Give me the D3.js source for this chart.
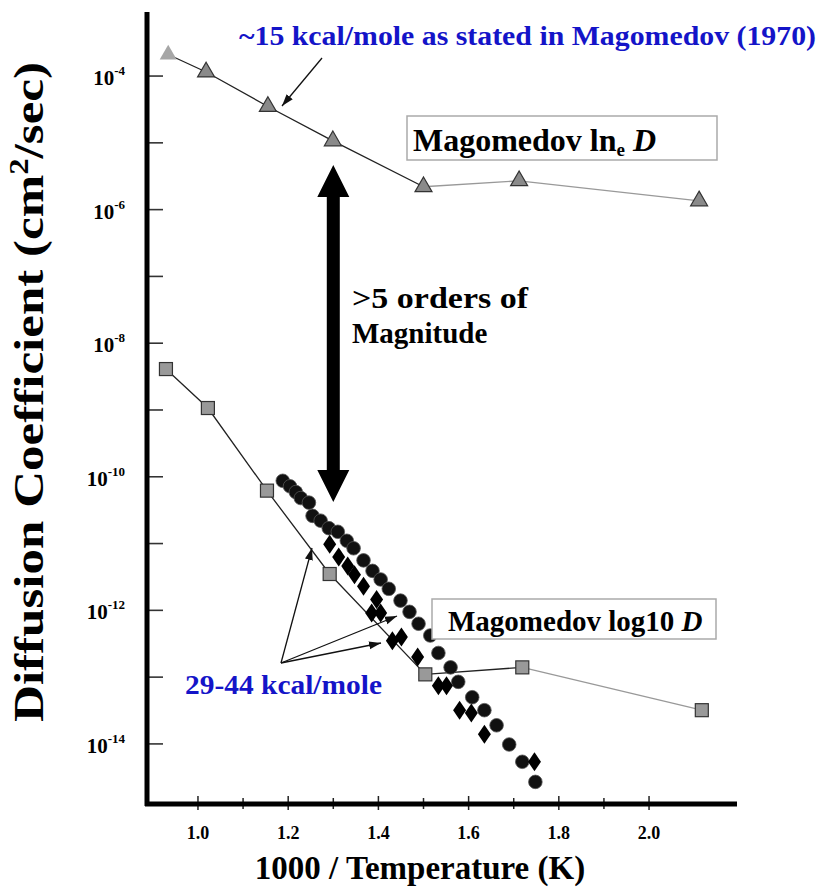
<!DOCTYPE html>
<meta charset="utf-8">
<style>

body {
  margin: 0;
  background: #fff;
}

svg {
  display: block;
}

text {
  font-family: "Liberation Serif", "Times New Roman", serif;
  font-weight: bold;
}

</style>
<svg id="chart" width="820" height="890"></svg>
<script src="https://d3js.org/d3.v7.min.js"></script>
<script>

// x = 1000 / T (1/K), D = diffusion coefficient (cm2/sec)

// Magomedov ln_e D (triangles)
var triX = [0.934, 1.018, 1.155, 1.299, 1.500, 1.712, 2.111];
var triD = [2.1e-4, 1.15e-4, 3.5e-5, 1.07e-5, 2.2e-6, 2.7e-6, 1.35e-6];

// Magomedov log10 D (squares)
var sqX = [0.929, 1.022, 1.153, 1.292, 1.504, 1.719, 2.117];
var sqD = [4.1e-9, 1.07e-9, 6.2e-11, 3.5e-12, 1.1e-13, 1.4e-13, 3.2e-14];

// measured data (circles)
var dotX = [1.188, 1.204, 1.217, 1.228, 1.246, 1.254, 1.272, 1.290, 1.310, 1.330,
            1.345, 1.367, 1.387, 1.405, 1.423, 1.449, 1.469, 1.489, 1.515, 1.533,
            1.560, 1.577, 1.608, 1.635, 1.662, 1.690, 1.719, 1.748];
var dotD = [8.7e-11, 7.2e-11, 5.9e-11, 4.8e-11, 4.1e-11, 2.6e-11, 2.2e-11, 1.7e-11, 1.5e-11, 1.1e-11,
            8.5e-12, 5.6e-12, 3.9e-12, 2.9e-12, 2.1e-12, 1.4e-12, 9.5e-13, 6.3e-13, 4.2e-13, 2.3e-13,
            1.4e-13, 8.5e-14, 5.0e-14, 3.2e-14, 1.9e-14, 9.8e-15, 5.4e-15, 2.7e-15];

// measured data (diamonds)
var diaX = [1.292, 1.312, 1.332, 1.347, 1.367, 1.396, 1.385, 1.405, 1.431, 1.451,
            1.487, 1.533, 1.551, 1.580, 1.606, 1.635, 1.746];
var diaD = [9.8e-12, 6.3e-12, 4.6e-12, 3.4e-12, 2.3e-12, 1.45e-12, 9.1e-13, 9.1e-13, 3.5e-13, 4.0e-13,
            2.0e-13, 7.4e-14, 7.4e-14, 3.2e-14, 2.9e-14, 1.4e-14, 5.4e-15];

var xTicks = [1.0, 1.1, 1.2, 1.3, 1.4, 1.5, 1.6, 1.7, 1.8, 1.9, 2.0];
var xLabels = [1.0, 1.2, 1.4, 1.6, 1.8, 2.0];
var yExps = [-4, -5, -6, -7, -8, -9, -10, -11, -12, -13, -14];
var yLabelExps = [-4, -6, -8, -10, -12, -14];

var xDomain = [0.887, 2.195],
    yDomain = [1.26e-15, 9.1e-4];

var svg = d3.select("#chart");

var x = d3.scaleLinear().domain(xDomain).range([147, 737]);
var y = d3.scaleLog().domain(yDomain).range([804, 12]);

var tri = triX.map(function(v, i) { return [v, triD[i]]; }),
    sq = sqX.map(function(v, i) { return [v, sqD[i]]; }),
    dots = dotX.map(function(v, i) { return [v, dotD[i]]; }),
    dia = diaX.map(function(v, i) { return [v, diaD[i]]; });

var line = d3.line()
    .x(function(d) { return x(d[0]); })
    .y(function(d) { return y(d[1]); });

var defs = svg.append("defs");
defs.append("marker")
    .attr("id", "head")
    .attr("markerUnits", "userSpaceOnUse")
    .attr("viewBox", "0 -5 12 10")
    .attr("refX", 12)
    .attr("refY", 0)
    .attr("markerWidth", 12)
    .attr("markerHeight", 10)
    .attr("orient", "auto")
  .append("path")
    .attr("d", "M0,-4L12,0L0,4Z")
    .attr("fill", "#111");

// y ticks (inside)
svg.append("g").selectAll("line")
  .data(yExps)
  .enter().append("line")
    .attr("x1", x(xDomain[0]))
    .attr("x2", x(xDomain[0]) + 16)
    .attr("y1", function(d) { return y(Math.pow(10, d)); })
    .attr("y2", function(d) { return y(Math.pow(10, d)); })
    .attr("stroke", "#333")
    .attr("stroke-width", 1.6);

var yl = svg.append("g").selectAll("text")
  .data(yLabelExps)
  .enter().append("text")
    .attr("x", 125)
    .attr("y", function(d) { return y(Math.pow(10, d)) + 9; })
    .attr("text-anchor", "end")
    .attr("font-size", 21);
yl.append("tspan").text("10");
yl.append("tspan")
    .attr("dy", -10)
    .attr("font-size", 13)
    .text(function(d) { return d; });

// x ticks (crossing the axis)
svg.append("g").selectAll("line")
  .data(xTicks)
  .enter().append("line")
    .attr("x1", function(d) { return x(d); })
    .attr("x2", function(d) { return x(d); })
    .attr("y1", function(d, i) { return i % 2 ? 798 : 796; })
    .attr("y2", function(d, i) { return i % 2 ? 809 : 810; })
    .attr("stroke", "#222")
    .attr("stroke-width", 1.5);

svg.append("g").selectAll("text")
  .data(xLabels)
  .enter().append("text")
    .attr("x", function(d) { return x(d); })
    .attr("y", 839)
    .attr("text-anchor", "middle")
    .attr("font-size", 18)
    .text(function(d) { return d3.format(".1f")(d); });

// axis lines
svg.append("line")
    .attr("x1", x(xDomain[0])).attr("x2", x(xDomain[0]))
    .attr("y1", y(yDomain[1])).attr("y2", y(yDomain[0]) + 2)
    .attr("stroke", "#000").attr("stroke-width", 5);
svg.append("line")
    .attr("x1", x(xDomain[0]) - 2).attr("x2", x(xDomain[1]))
    .attr("y1", y(yDomain[0])).attr("y2", y(yDomain[0]))
    .attr("stroke", "#000").attr("stroke-width", 5);

// axis titles
svg.append("text")
    .attr("x", 420)
    .attr("y", 879)
    .attr("text-anchor", "middle")
    .attr("font-size", 33)
    .text("1000 / Temperature (K)");

var yt = svg.append("text")
    .attr("transform", "translate(43,392) rotate(-90)")
    .attr("text-anchor", "middle")
    .attr("font-size", 42)
    .attr("textLength", 660)
    .attr("lengthAdjust", "spacingAndGlyphs");
yt.append("tspan").text("Diffusion Coefficient (cm");
yt.append("tspan").attr("dy", -15).attr("font-size", 27).text("2");
yt.append("tspan").attr("dy", 15).text("/sec)");

// series lines
svg.append("path").datum(tri.slice(0, 5))
    .attr("d", line).attr("fill", "none").attr("stroke", "#222").attr("stroke-width", 1.3);
svg.append("path").datum(tri.slice(4))
    .attr("d", line).attr("fill", "none").attr("stroke", "#999").attr("stroke-width", 1.3);
svg.append("path").datum(sq.slice(0, 6))
    .attr("d", line).attr("fill", "none").attr("stroke", "#222").attr("stroke-width", 1.3);
svg.append("path").datum(sq.slice(5))
    .attr("d", line).attr("fill", "none").attr("stroke", "#999").attr("stroke-width", 1.3);

// markers
svg.append("g").selectAll("path")
  .data(tri)
  .enter().append("path")
    .attr("transform", function(d) { return "translate(" + x(d[0]) + "," + y(d[1]) + ")"; })
    .attr("d", d3.symbol(d3.symbolTriangle, 125))
    .attr("fill", function(d, i) { return i ? "#8a8a8a" : "#a6a6a6"; })
    .attr("stroke", function(d, i) { return i ? "#333" : "none"; })
    .attr("stroke-width", 1.2);

svg.append("g").selectAll("rect")
  .data(sq)
  .enter().append("rect")
    .attr("x", function(d) { return x(d[0]) - 6.5; })
    .attr("y", function(d) { return y(d[1]) - 6.5; })
    .attr("width", 13)
    .attr("height", 13)
    .attr("fill", "#999")
    .attr("stroke", "#333")
    .attr("stroke-width", 1.2);

svg.append("g").selectAll("circle")
  .data(dots)
  .enter().append("circle")
    .attr("cx", function(d) { return x(d[0]); })
    .attr("cy", function(d) { return y(d[1]); })
    .attr("r", 6.8)
    .attr("fill", "#111")
    .attr("stroke", "#555")
    .attr("stroke-width", 0.8);

svg.append("g").selectAll("path")
  .data(dia)
  .enter().append("path")
    .attr("transform", function(d) { return "translate(" + x(d[0]) + "," + y(d[1]) + ")"; })
    .attr("d", "M0,-9.5L6.5,0L0,9.5L-6.5,0Z")
    .attr("fill", "#000");

// legend boxes
svg.append("rect")
    .attr("x", 407).attr("y", 116).attr("width", 310).attr("height", 44)
    .attr("fill", "#fff").attr("stroke", "#aaa").attr("stroke-width", 1.5);
var l1 = svg.append("text")
    .attr("x", 413).attr("y", 151)
    .attr("font-size", 32);
l1.append("tspan").text("Magomedov ln");
l1.append("tspan").attr("dy", 5).attr("font-size", 19).text("e");
l1.append("tspan").attr("dy", -5).text(" ");
l1.append("tspan").attr("font-style", "italic").text("D");

svg.append("rect")
    .attr("x", 432).attr("y", 599).attr("width", 284).attr("height", 40)
    .attr("fill", "#fff").attr("stroke", "#aaa").attr("stroke-width", 1.5);
var l2 = svg.append("text")
    .attr("x", 448).attr("y", 631)
    .attr("font-size", 29);
l2.append("tspan").text("Magomedov log10");
l2.append("tspan").attr("font-style", "italic").text(" D");

// big double arrow
var ax = x(1.3), aTop = 165, aBot = 502;
svg.append("path")
    .attr("d", "M" + ax + "," + aTop +
        "L" + (ax + 16) + "," + (aTop + 32) + "L" + (ax + 6.5) + "," + (aTop + 32) +
        "L" + (ax + 6.5) + "," + (aBot - 32) + "L" + (ax + 16) + "," + (aBot - 32) +
        "L" + ax + "," + aBot +
        "L" + (ax - 16) + "," + (aBot - 32) + "L" + (ax - 6.5) + "," + (aBot - 32) +
        "L" + (ax - 6.5) + "," + (aTop + 32) + "L" + (ax - 16) + "," + (aTop + 32) + "Z")
    .attr("fill", "#000");

svg.append("text")
    .attr("x", 352).attr("y", 308)
    .attr("font-family", "'Liberation Sans', Arial, sans-serif")
    .attr("font-size", 29)
    .attr("textLength", 176)
    .attr("lengthAdjust", "spacingAndGlyphs")
    .text(">5 orders of");
svg.append("text")
    .attr("x", 352).attr("y", 343)
    .attr("font-family", "'Liberation Sans', Arial, sans-serif")
    .attr("font-size", 29)
    .text("Magnitude");

// annotations
svg.append("text")
    .attr("x", 239).attr("y", 45)
    .attr("font-size", 27)
    .attr("fill", "#1414c8")
    .attr("textLength", 577)
    .attr("lengthAdjust", "spacingAndGlyphs")
    .text("~15 kcal/mole as stated in Magomedov (1970)");

svg.append("line")
    .attr("x1", 322).attr("y1", 58).attr("x2", 282).attr("y2", 106)
    .attr("stroke", "#111").attr("stroke-width", 1.3)
    .attr("marker-end", "url(#head)");

svg.append("text")
    .attr("x", 185).attr("y", 694)
    .attr("font-size", 27)
    .attr("fill", "#1414c8")
    .attr("textLength", 197)
    .attr("lengthAdjust", "spacingAndGlyphs")
    .text("29-44 kcal/mole");

var tips = [[312, 548], [397, 616], [381, 643]];
svg.append("g").selectAll("line")
  .data(tips)
  .enter().append("line")
    .attr("x1", 281).attr("y1", 663)
    .attr("x2", function(d) { return d[0]; })
    .attr("y2", function(d) { return d[1]; })
    .attr("stroke", "#111").attr("stroke-width", 1.3)
    .attr("marker-end", "url(#head)");

</script>
